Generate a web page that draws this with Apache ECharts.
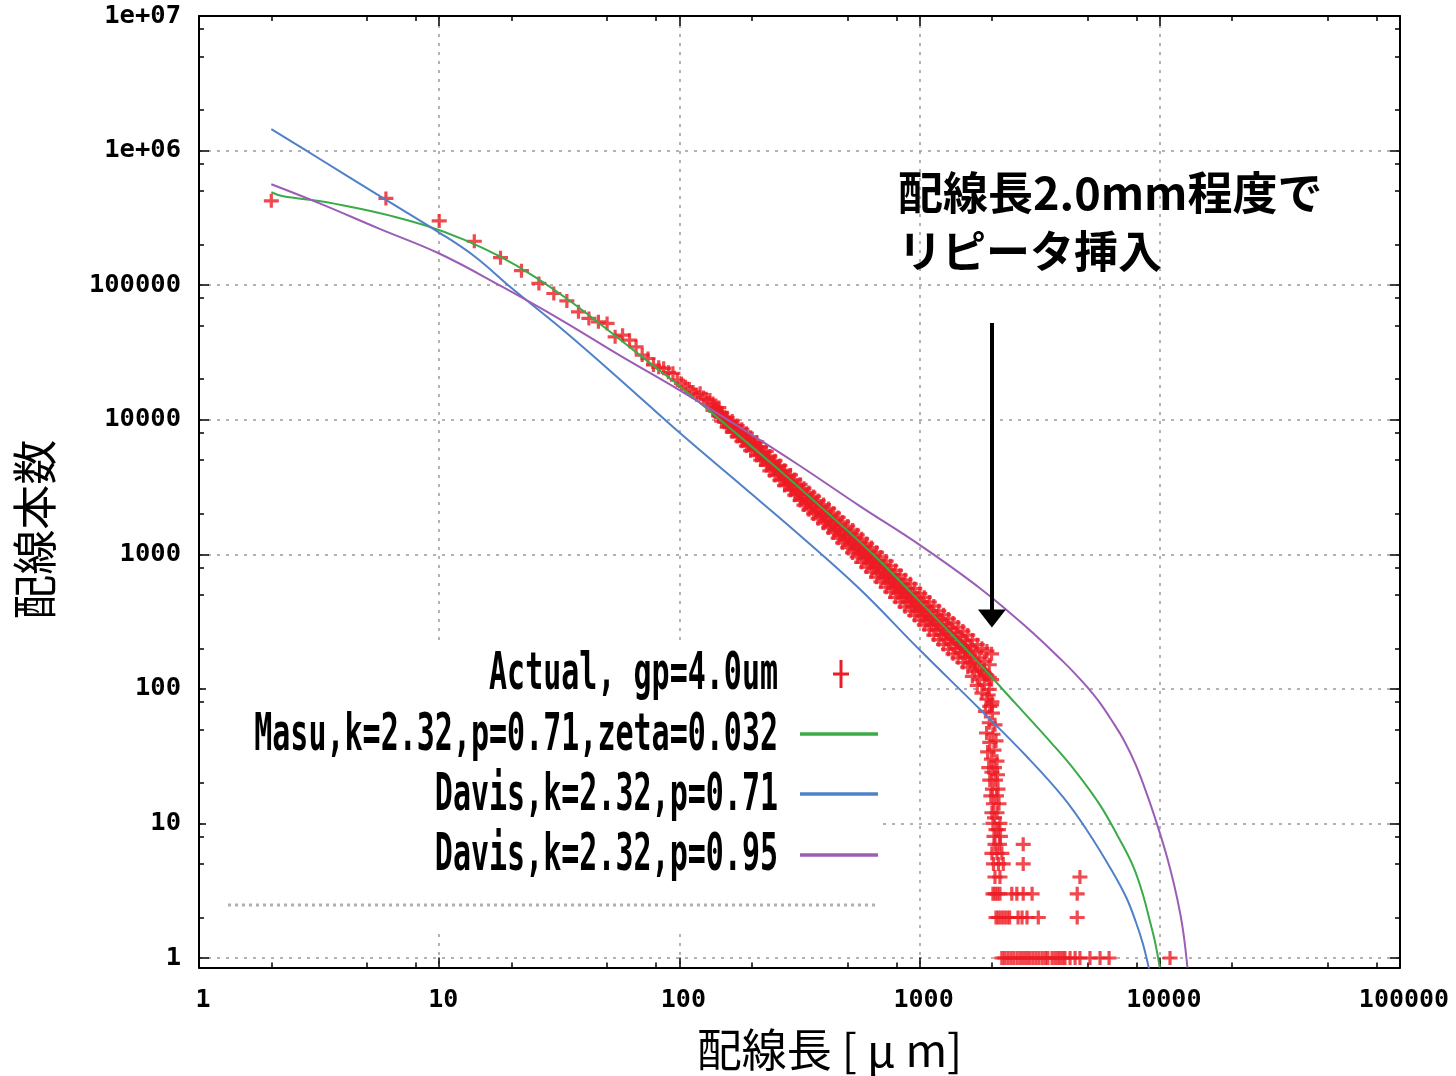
<!DOCTYPE html>
<html>
<head>
<meta charset="utf-8">
<title>配線長分布</title>
<script src="https://cdn.jsdelivr.net/npm/echarts@6/dist/echarts.min.js"></script>
<style>
html, body { margin: 0; padding: 0; background: #fff; }
#main { width: 1456px; height: 1076px; }
</style>
</head>
<body>
<div id="main"></div>
<script>
// 実測データ (配線長[um], 本数) -- 図から読み取り
var actualHead = [[2, 423000], [6, 441000], [10, 300000], [14, 212000], [18, 160000], [22, 128000],
    [26, 103000], [30, 86700], [34, 76400], [38, 63300], [42, 56600], [46, 53400], [50, 51900],
    [54, 41300], [58, 42500], [62, 39000], [66, 34800], [70, 30200], [74, 28500], [78, 25500],
    [82, 24500], [86, 24100], [90, 22500], [94, 22100], [98, 19700], [102, 18600], [106, 17600],
    [110, 16900], [114, 16100], [118, 15300], [122, 15700], [126, 14600], [130, 14100], [134, 14000]];

// 密集部分 (帯の下端・中央・上端)
var bandLen = [138, 146, 150, 158, 166, 174, 182, 190, 198, 210, 218, 230, 238, 250, 262, 274, 290, 302,
    318, 330, 346, 362, 378, 398, 418, 438, 458, 478, 502, 526, 550, 574, 602, 630, 662, 690, 726, 758,
    794, 830, 870, 914, 954, 1002, 1046, 1098, 1146, 1202, 1258, 1318, 1378, 1446, 1514, 1586, 1658,
    1738, 1818, 1906, 1994];
var bandLow = [11750, 10720, 9770, 8810, 8130, 7500, 6920, 6380, 5890, 5410, 5010, 4570, 4170, 3850,
    3550, 3240, 2990, 2750, 2510, 2320, 2140, 1995, 1840, 1700, 1570, 1445, 1318, 1216, 1122, 1023,
    955, 871, 804, 741, 676, 624, 569, 525, 479, 442, 407, 380, 351, 324, 299, 275, 251, 232, 214,
    197, 182, 170, 157, 145, 124, 106, 93, 84, 76];
var bandMid = [12420, 11380, 10420, 9550, 8870, 8240, 7660, 7110, 6610, 6080, 5620, 5130, 4790, 4370,
    3980, 3720, 3390, 3160, 2880, 2680, 2510, 2320, 2140, 1995, 1840, 1700, 1585, 1460, 1349, 1245,
    1148, 1072, 989, 912, 841, 776, 708, 653, 603, 556, 513, 479, 442, 407, 376, 347, 324, 299, 275,
    257, 237, 221, 204, 191, 169, 150, 136, 126, 117];
var bandHigh = [13180, 12300, 11220, 10350, 9770, 9060, 8510, 7940, 7410, 6840, 6310, 5820, 5370, 4950,
    4570, 4220, 3890, 3590, 3310, 3090, 2880, 2690, 2510, 2340, 2190, 2020, 1880, 1740, 1622, 1514,
    1396, 1303, 1202, 1122, 1035, 955, 891, 822, 759, 700, 646, 603, 556, 513, 479, 442, 412, 380,
    355, 331, 309, 288, 269, 251, 231, 213, 200, 191, 182];
var bandLen2 = [142, 148, 154, 162, 170, 178, 186, 194, 206, 214, 222, 234, 246, 258, 270, 282, 294, 310,
    322, 338, 354, 370, 390, 406, 426, 446, 466, 490, 514, 538, 562, 590, 618, 646, 674, 710, 742, 778,
    814, 850, 890, 934, 978, 1022, 1070, 1122, 1174, 1230, 1290, 1350, 1414, 1478, 1550, 1622, 1698,
    1778, 1862, 1950];
var bandLow2 = [11510, 10520, 9590, 8830, 8170, 7570, 7000, 6490, 5980, 5500, 5060, 4650, 4280, 3930,
    3610, 3320, 3050, 2810, 2590, 2400, 2230, 2060, 1910, 1770, 1630, 1510, 1390, 1280, 1180, 1090,
    1010, 929, 857, 789, 724, 665, 611, 561, 516, 478, 442, 408, 378, 348, 321, 297, 274, 252, 233,
    216, 200, 186, 172, 155, 135, 117, 108, 99];
var bandMid2 = [11890, 10890, 9980, 9200, 8550, 7940, 7380, 6850, 6340, 5830, 5370, 4940, 4550, 4190,
    3850, 3550, 3270, 3010, 2780, 2580, 2400, 2230, 2070, 1920, 1770, 1640, 1520, 1400, 1300, 1200,
    1110, 1030, 948, 875, 805, 741, 682, 628, 579, 536, 495, 458, 424, 392, 362, 335, 310, 286, 265,
    247, 229, 213, 198, 179, 159, 141, 131, 122];
var bandHigh2 = [12270, 11270, 10370, 9590, 8950, 8340, 7780, 7240, 6710, 6190, 5700, 5260, 4840, 4470,
    4110, 3790, 3490, 3220, 2990, 2780, 2590, 2410, 2240, 2080, 1930, 1790, 1660, 1540, 1430, 1320,
    1220, 1140, 1050, 973, 897, 828, 764, 705, 650, 601, 556, 514, 475, 441, 407, 378, 350, 325, 302,
    281, 261, 243, 227, 208, 188, 170, 160, 151];

// 2mm付近で急減する部分と少数本数の行
var actualTail = [[1930, 90], [2000, 80], [1960, 74], [1880, 68], [2010, 66], [1950, 56], [2060, 54],
    [1900, 47], [2020, 46], [1960, 40], [2080, 41], [1920, 34], [2040, 35], [1990, 30], [2100, 29],
    [1940, 26], [2050, 26], [2000, 24], [2110, 23], [1960, 21], [2070, 21], [2010, 18], [2120, 18],
    [1980, 16], [2090, 16], [2030, 14], [2140, 14], [2000, 12], [2100, 12], [2050, 11], [2160, 10],
    [2020, 10], [2080, 9], [2130, 9], [2040, 8], [2170, 8], [2060, 7], [2150, 7], [2000, 6], [2100, 6],
    [2200, 6], [2030, 5], [2130, 5], [2230, 5], [2060, 4], [2160, 4],
    [2700, 7], [2700, 5], [4650, 4],
    [2020, 3], [2061, 3], [2110, 3], [2161, 3], [2420, 3], [2540, 3], [2700, 3], [2940, 3], [4530, 3],
    [2080, 2], [2130, 2], [2190, 2], [2250, 2], [2310, 2], [2370, 2], [2570, 2], [2670, 2], [2800, 2],
    [3120, 2], [4530, 2],
    [2200, 1], [2260, 1], [2330, 1], [2400, 1], [2470, 1], [2550, 1], [2630, 1], [2710, 1], [2790, 1],
    [2870, 1], [2960, 1], [3050, 1], [3140, 1], [3240, 1], [3340, 1], [3420, 1], [3560, 1], [3660, 1],
    [3760, 1], [3850, 1], [3950, 1], [4030, 1], [4230, 1], [4440, 1], [4650, 1], [5120, 1], [5640, 1],
    [6150, 1], [11030, 1]];

// モデル曲線
var masuCurve = [[2, 490000], [2.24, 457000], [3.16, 422000], [4.47, 376000], [6.31, 327000],
    [8.91, 275000], [12.6, 219000], [17.8, 164000], [25.1, 114800], [35.5, 75000], [50.1, 46800],
    [70.8, 28800], [100, 17800], [158, 9016], [251, 4467], [398, 2163], [631, 1023], [1000, 447],
    [1585, 191], [2512, 77.6], [3548, 39.4], [4467, 24.3], [5623, 13.8], [6761, 7.76], [7762, 4.76],
    [8511, 2.95], [9120, 1.84], [9550, 1.32], [10000, 0.85]];
var davis071Curve = [[2, 1445000], [3.16, 873000], [5.62, 463000], [10, 246000], [14.1, 162600],
    [19.95, 95500], [31.6, 49000], [56.2, 20100], [100, 8020], [178, 3340], [316, 1393], [562, 555],
    [1000, 195], [1778, 70.8], [2818, 30.9], [3981, 15.5], [5012, 8.71], [6310, 4.47], [7244, 2.83],
    [7943, 1.86], [8511, 1.27], [9016, 0.83]];
var davis095Curve = [[2, 562000], [3.16, 407000], [5.62, 263000], [10, 171800], [17.8, 100000],
    [31.6, 56200], [56.2, 30200], [100, 16600], [178, 8810], [316, 4571], [562, 2291], [1000, 1175],
    [1778, 562], [2818, 282], [3981, 158], [4467, 128], [5012, 102], [5623, 79], [6310, 58.2],
    [7079, 41.7], [7943, 27.2], [8913, 15.8], [10000, 8.51], [10715, 5.62], [11482, 3.47],
    [12162, 2.14], [12589, 1.46], [13032, 0.85]];

var seriesNames = ['Actual, gp=4.0um', 'Masu,k=2.32,p=0.71,zeta=0.032', 'Davis,k=2.32,p=0.71', 'Davis,k=2.32,p=0.95'];
var seriesColors = ['#ec1c24', '#3aab48', '#4f80c8', '#9b5db5'];

var xDecades = [1, 10, 100, 1000, 10000];
var yDecades = [1, 10, 100, 1000, 10000, 100000, 1000000];
var minorSteps = [2, 5, 8];

var repeaterLen = 2000;          // 配線長2.0mm
var arrowFrom = 52400, arrowTo = 333;

var actualData = actualHead.slice();
bandLen.forEach(function (len, i) {
    actualData.push([len, bandLow[i]], [len, bandMid[i]], [len, bandHigh[i]]);
});
bandLen2.forEach(function (len, i) {
    actualData.push([len, bandLow2[i]], [len, bandMid2[i]], [len, bandHigh2[i]]);
});
actualData = actualData.concat(actualTail);

function minorValues(decades) {
    var out = [];
    decades.forEach(function (d) {
        minorSteps.forEach(function (s) { out.push(d * s); });
    });
    return out;
}

function decadeLabel(v, useExp) {
    var e = Math.round(Math.log10(v));
    if (Math.abs(v - Math.pow(10, e)) > 1e-6 * v) return '';
    if (useExp && e >= 6) return '1e+' + (e < 10 ? '0' : '') + e;
    return String(Math.pow(10, e));
}

var gridLine = { show: true, lineStyle: { color: '#9a9a9a', width: 1.5, type: [3, 6] } };
var axisBlack = { color: '#000', width: 2 };

function plainAxis(pos, min, max, extra) {
    var a = {
        type: 'log', logBase: 10, min: min, max: max, position: pos,
        axisLine: { show: false, onZero: false },
        axisTick: { show: true, inside: true, length: 10, lineStyle: { color: '#000', width: 1.5 } },
        axisLabel: { show: false },
        splitLine: { show: false }
    };
    for (var k in extra) a[k] = extra[k];
    return a;
}

var xMinor = minorValues(xDecades);
var yMinor = minorValues(yDecades);
var minorTick = function (vals) {
    return { inside: true, length: 5, customValues: vals, lineStyle: { color: '#000', width: 1.5 } };
};

var option = {
    animation: false,
    backgroundColor: '#fff',
    grid: { left: 199, right: 56, top: 16, bottom: 108.5, containLabel: false, outerBoundsMode: 'none' },
    xAxis: [
        plainAxis('bottom', 1, 100000, {
            name: '配線長 [ μ m]',
            nameLocation: 'middle',
            nameGap: 60,
            nameTextStyle: { fontFamily: 'Noto Sans CJK JP', fontSize: 45, color: '#000', padding: [0, 0, 0, 60] },
            axisLine: { show: true, onZero: false, lineStyle: axisBlack },
            axisLabel: {
                show: true, margin: 20, padding: [0, 0, 0, 8],
                fontFamily: 'DejaVu Sans Mono', fontWeight: 'bold', fontSize: 25, color: '#000',
                formatter: function (v) { return decadeLabel(v, false); }
            },
            splitLine: gridLine
        }),
        plainAxis('bottom', 1, 100000, { axisTick: minorTick(xMinor) }),
        plainAxis('top', 1, 100000, { axisLine: { show: true, onZero: false, lineStyle: axisBlack } }),
        plainAxis('top', 1, 100000, { axisTick: minorTick(xMinor) })
    ],
    yAxis: [
        plainAxis('left', 0.85, 10000000, {
            name: '配線本数',
            nameLocation: 'middle',
            nameGap: 142,
            nameTextStyle: { fontFamily: 'Noto Sans CJK JP', fontSize: 45, color: '#000', padding: [0, 76, 0, 0] },
            axisLine: { show: true, onZero: false, lineStyle: axisBlack },
            axisLabel: {
                show: true, margin: 18, showMinLabel: false,
                fontFamily: 'DejaVu Sans Mono', fontWeight: 'bold', fontSize: 25.5, color: '#000',
                formatter: function (v) { return decadeLabel(v, true); }
            },
            splitLine: gridLine
        }),
        plainAxis('left', 0.85, 10000000, { axisTick: minorTick(yMinor) }),
        plainAxis('right', 0.85, 10000000, { axisLine: { show: true, onZero: false, lineStyle: axisBlack } }),
        plainAxis('right', 0.85, 10000000, { axisTick: minorTick(yMinor) })
    ],
    series: [
        {
            name: seriesNames[0],
            type: 'scatter',
            data: actualData,
            symbol: 'path://M0,5.4H15V8.6H0Z M5.9,0H9.1V14H5.9Z',
            symbolSize: [15, 14],
            itemStyle: { color: seriesColors[0] },
            silent: true
        },
        {
            name: seriesNames[1], type: 'line', data: masuCurve, showSymbol: false,
            smooth: 0.4,
            lineStyle: { color: seriesColors[1], width: 2 }, itemStyle: { color: seriesColors[1] }
        },
        {
            name: seriesNames[2], type: 'line', data: davis071Curve, showSymbol: false,
            smooth: 0.4,
            lineStyle: { color: seriesColors[2], width: 2 }, itemStyle: { color: seriesColors[2] }
        },
        {
            name: seriesNames[3], type: 'line', data: davis095Curve, showSymbol: false,
            smooth: 0.4,
            lineStyle: { color: seriesColors[3], width: 2 }, itemStyle: { color: seriesColors[3] },
            markLine: {
                silent: true,
                symbol: ['none', 'none'],
                label: { show: false },
                lineStyle: { color: '#000', width: 4, type: 'solid' },
                data: [[{ coord: [repeaterLen, arrowFrom] }, { coord: [repeaterLen, arrowTo] }]]
            },
            markPoint: {
                silent: true,
                symbol: 'triangle',
                symbolSize: [28, 18],
                symbolRotate: 180,
                label: { show: false },
                itemStyle: { color: '#000' },
                data: [{ coord: [repeaterLen, arrowTo] }]
            }
        }
    ],
    graphic: [
        { type: 'rect', z: 100, shape: { x: 206, y: 640, width: 674, height: 290 }, style: { fill: '#fff' } },
        { type: 'line', z: 101, shape: { x1: 228, y1: 905, x2: 878, y2: 905 }, style: { stroke: '#b0b0b0', lineWidth: 3, lineDash: [3, 4] } },
        { type: 'text', z: 101, x: 778, y: 676, scaleY: 1.72, style: { text: seriesNames[0], fill: '#000', font: 'bold 30px "DejaVu Sans Mono"', align: 'right', textAlign: 'right', verticalAlign: 'middle', textVerticalAlign: 'middle' } },
        { type: 'text', z: 101, x: 778, y: 737, scaleY: 1.72, style: { text: seriesNames[1], fill: '#000', font: 'bold 30px "DejaVu Sans Mono"', align: 'right', textAlign: 'right', verticalAlign: 'middle', textVerticalAlign: 'middle' } },
        { type: 'text', z: 101, x: 778, y: 797, scaleY: 1.72, style: { text: seriesNames[2], fill: '#000', font: 'bold 30px "DejaVu Sans Mono"', align: 'right', textAlign: 'right', verticalAlign: 'middle', textVerticalAlign: 'middle' } },
        { type: 'text', z: 101, x: 778, y: 857, scaleY: 1.72, style: { text: seriesNames[3], fill: '#000', font: 'bold 30px "DejaVu Sans Mono"', align: 'right', textAlign: 'right', verticalAlign: 'middle', textVerticalAlign: 'middle' } },
        { type: 'line', z: 101, shape: { x1: 833, y1: 674, x2: 849, y2: 674 }, style: { stroke: seriesColors[0], lineWidth: 3 } },
        { type: 'line', z: 101, shape: { x1: 841, y1: 660, x2: 841, y2: 688 }, style: { stroke: seriesColors[0], lineWidth: 3 } },
        { type: 'line', z: 101, shape: { x1: 800, y1: 734, x2: 878, y2: 734 }, style: { stroke: seriesColors[1], lineWidth: 3.5 } },
        { type: 'line', z: 101, shape: { x1: 800, y1: 794, x2: 878, y2: 794 }, style: { stroke: seriesColors[2], lineWidth: 3.5 } },
        { type: 'line', z: 101, shape: { x1: 800, y1: 855, x2: 878, y2: 855 }, style: { stroke: seriesColors[3], lineWidth: 3.5 } },
        { type: 'text', z: 101, x: 898, y: 193, style: { text: '配線長2.0mm程度で', fill: '#000', font: 'bold 45px "Noto Sans CJK JP"', verticalAlign: 'middle', textVerticalAlign: 'middle' } },
        { type: 'text', z: 101, x: 898, y: 251, style: { text: 'リピータ挿入', fill: '#000', font: 'bold 44px "Noto Sans CJK JP"', verticalAlign: 'middle', textVerticalAlign: 'middle' } }
    ]
};

var myChart = echarts.init(document.getElementById('main'));
myChart.setOption(option);

window.onresize = function () {
    myChart.resize();
};
</script>
</body>
</html>
